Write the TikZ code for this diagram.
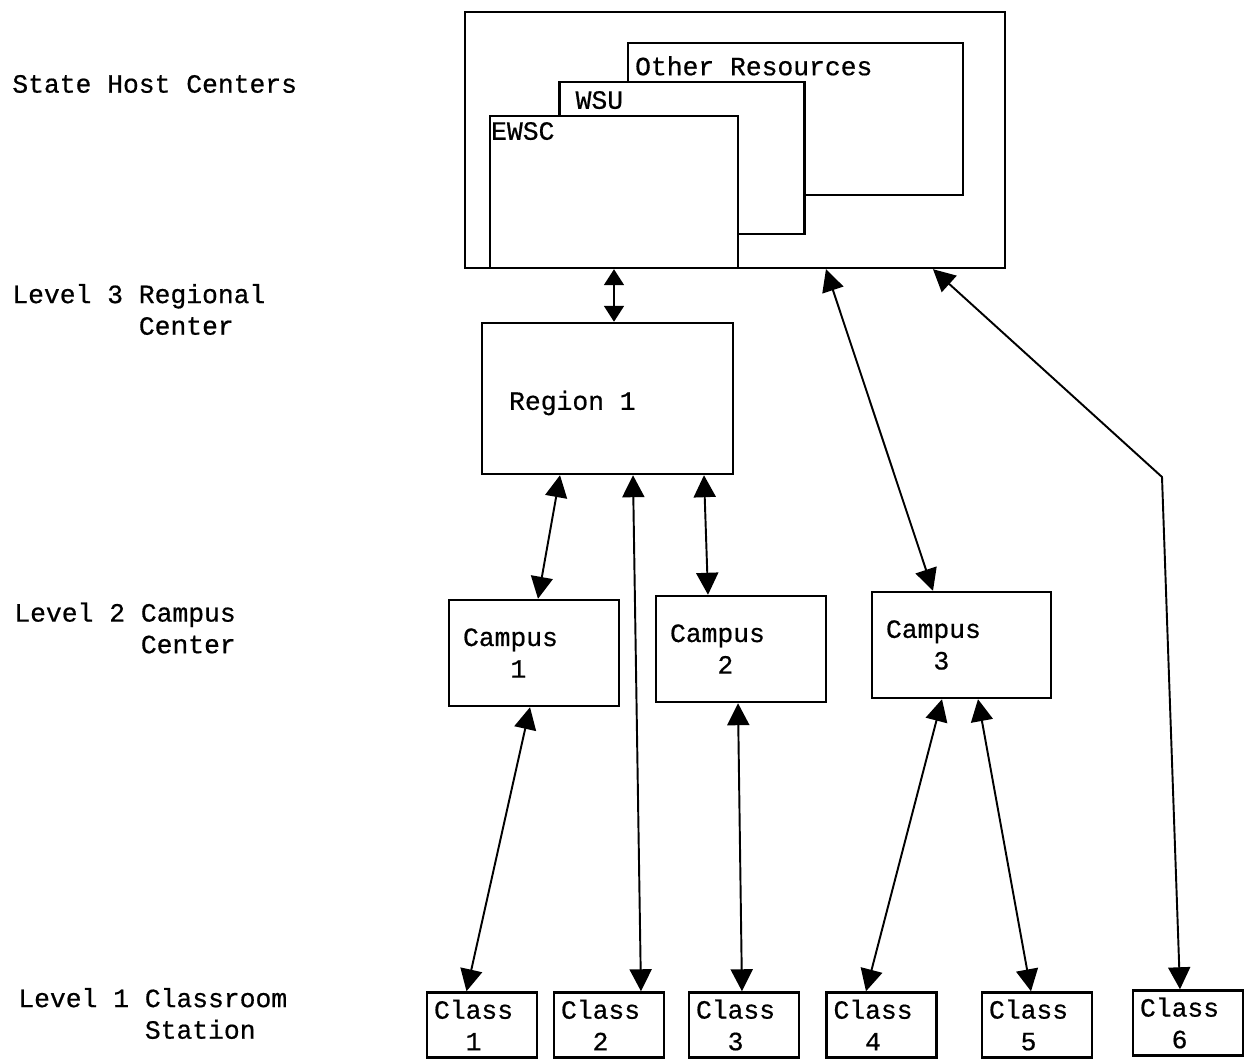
\documentclass[tikz,border=0pt]{standalone}
\usepackage{fontspec}
\setmainfont{Liberation Mono}[FakeBold=0.6]
\usetikzlibrary{positioning}
\usetikzlibrary{arrows.meta}
\tikzset{
    box/.style={
        draw,
        fill=white,
        line width=1.4pt,
        inner sep=0pt
    },
    tag/.style={
        inner sep=0pt
    },
    tier/.style={
        inner sep=0pt,
        anchor=west,
        align=left
    },
    campusbox/.style={
        box,
        text width=2.84cm,
        inner xsep=0.28cm,
        align=left,
        minimum height=2.12cm
    },
    classbox/.style={
        box,
        text width=1.92cm,
        inner xsep=0.14cm,
        align=left,
        minimum height=1.3cm
    },
    link/.style={
        draw,
        <->,>={Triangle[length=0.44cm,width=0.44cm]},
        line width=1.1pt
    },
    every edge/.append style={link}
}

\begin{document}
\begin{tikzpicture}[x=0.02cm, y=-0.02cm, font=\fontsize{15}{18}\selectfont]
                \useasboundingbox (0,0) rectangle (1249,1060);

                % level names on the left
                \node[tier] (hostlevel) at (12,84) {State Host Centers};
                \node[tier] (regionlevel) at (12,309.5) {Level 3 Regional\\\hphantom{Level 3 }Center};
                \node[tier] (campuslevel) at (14,628) {Level 2 Campus\\\hphantom{Level 2 }Center};
                \node[tier] (classlevel) at (18,1013.5) {Level 1 Classroom\\\hphantom{Level 1 }Station};

                % state host centers
                \node[box, minimum width=10.8cm, minimum height=5.12cm] (host) at (735,140) {};
                \node[box, minimum width=6.7cm, minimum height=3.04cm] (other) at (795.5,119) {};
                \node[tag, below right=0.28cm and 0.16cm of other.north west] (othertext) {Other Resources};
                \node[box, minimum width=4.9cm, minimum height=3.04cm] (wsu) at (682,158) {};
                \node[tag, below right=0.2cm and 0.34cm of wsu.north west] (wsutext) {WSU};
                \node[box, minimum width=4.96cm, minimum height=3.04cm] (ewsc) at (614,192) {};
                \node[tag, below right=0.14cm and 0.04cm of ewsc.north west] (ewsctext) {EWSC};

                \node[box, minimum width=5.02cm, minimum height=3.02cm] (region) at (607.5,398.5) {};
                \node[tag, anchor=west] (regiontext) at ([xshift=0.56cm, yshift=-0.09cm]region.west) {Region 1};

                \node[campusbox] (campus1) at (534,653) {Campus\\\hphantom{Cam}1};
                \node[campusbox] (campus2) at (741,649) {Campus\\\hphantom{Cam}2};
                \node[campusbox, text width=3.02cm] (campus3) at (961.5,645) {Campus\\\hphantom{Cam}3};

                \node[classbox] (class1) at (482,1025) {Class\\\hphantom{Cl}1};
                \node[classbox] (class2) at (609,1025) {Class\\\hphantom{Cl}2};
                \node[classbox] (class3) at (744,1025) {Class\\\hphantom{Cl}3};
                \node[classbox] (class4) at (881.5,1025) {Class\\\hphantom{Cl}4};
                \node[classbox] (class5) at (1037,1025) {Class\\\hphantom{Cl}5};
                \node[classbox] (class6) at (1188,1023) {Class\\\hphantom{Cl}6};

                \draw (ewsc.south) edge[>={Triangle[length=0.32cm,width=0.4cm]}] (ewsc.south |- region.north);
                \draw ([xshift=-0.95cm]region.south) edge ([xshift=0.08cm]campus1.north);
                \draw ([xshift=0.51cm]region.south) edge ([xshift=0.64cm]class2.north);
                \draw ([xshift=1.93cm]region.south) edge ([xshift=-0.66cm]campus2.north);
                \draw ([xshift=1.82cm]host.south) edge ([xshift=-0.57cm]campus3.north);
                \coordinate (bend) at (1162,477);
                \draw[link] ([xshift=3.96cm]host.south) -- (bend) -- ([xshift=-0.16cm]class6.north);

                \draw ([xshift=-0.08cm]campus1.south) edge ([xshift=-0.31cm]class1.north);
                \draw ([xshift=-0.06cm]campus2.south) edge ([xshift=-0.04cm]class3.north);
                \draw ([xshift=-0.39cm]campus3.south) edge ([xshift=-0.31cm]class4.north);
                \draw ([xshift=0.33cm]campus3.south) edge ([xshift=-0.12cm]class5.north);
            \end{tikzpicture}
\end{document}
